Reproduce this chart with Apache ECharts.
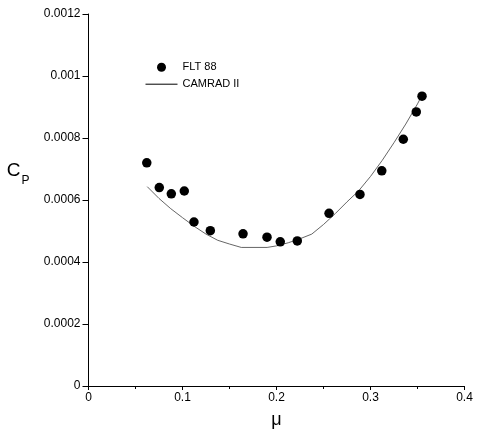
<!DOCTYPE html>
<html><head><meta charset="utf-8">
<script src="https://cdn.jsdelivr.net/npm/echarts@6/dist/echarts.min.js"></script>
<style>html,body{margin:0;padding:0;background:#fff}#c{width:478px;height:434px}</style>
</head><body><div id="c"></div>
<script>
// FLT 88 flight test points [mu, Cp]
var fltMu = [0.062, 0.0753, 0.0881, 0.1019, 0.1122, 0.1296, 0.1644, 0.1899, 0.2040, 0.2221, 0.2559, 0.2888, 0.3120, 0.3349, 0.3487, 0.3548];
var fltCp = [0.000720, 0.000640, 0.000620, 0.000629, 0.000529, 0.000501, 0.000491, 0.000480, 0.000465, 0.000468, 0.000557, 0.000618, 0.000694, 0.000796, 0.000884, 0.000935];
// CAMRAD II prediction
var camMu = [0.0625, 0.075, 0.0875, 0.1, 0.1125, 0.125, 0.1375, 0.15, 0.1625, 0.19, 0.2, 0.2125, 0.225, 0.2375, 0.25, 0.2625, 0.275, 0.2875, 0.3, 0.3125, 0.325, 0.3375, 0.35, 0.356];
var camCp = [0.000643, 0.000605, 0.000572, 0.000543, 0.000515, 0.000490, 0.000470, 0.000458, 0.000447, 0.000447, 0.000452, 0.000462, 0.000475, 0.000490, 0.000521, 0.000556, 0.000594, 0.000630, 0.000676, 0.000728, 0.000785, 0.000845, 0.000910, 0.000945];

var fltData = fltMu.map(function(m, i){ return [m, fltCp[i]]; });
var camData = camMu.map(function(m, i){ return [m, camCp[i]]; });

var font = '"Liberation Sans", Arial, sans-serif';
var chart = echarts.init(document.getElementById('c'), null, {renderer: 'canvas'});
chart.setOption({
  animation: false,
  backgroundColor: '#fff',
  grid: {left: 88.5, right: 13.5, top: 14, bottom: 48},
  legend: {
    orient: 'vertical', left: 140, top: 56.7,
    itemWidth: 32, itemHeight: 9, itemGap: 6,
    textStyle: {fontFamily: font, fontSize: 11, color: '#000'},
    data: [
      {name: 'FLT 88', icon: 'circle', itemStyle: {color: '#000', opacity: 1}},
      {name: 'CAMRAD II', itemStyle: {opacity: 0}, lineStyle: {color: '#000', width: 1}}
    ]
  },
  xAxis: {
    type: 'value', min: 0, max: 0.4, interval: 0.1,
    name: 'μ', nameLocation: 'middle', nameGap: 25,
    nameTextStyle: {fontFamily: font, fontSize: 18, color: '#000'},
    axisLine: {lineStyle: {color: '#000', width: 1}},
    axisTick: {inside: false, length: 4, lineStyle: {color: '#000'}},
    minorTick: {show: true, splitNumber: 2, length: 3, lineStyle: {color: '#000'}},
    axisLabel: {fontFamily: font, fontSize: 12, color: '#000', margin: 6},
    splitLine: {show: false}
  },
  yAxis: {
    type: 'value', min: 0, max: 0.0012, interval: 0.0002,
    name: '{c|C}{p|P}', nameLocation: 'middle', nameRotate: 0, nameGap: 59,
    nameTextStyle: {
      fontFamily: font, color: '#000', padding: [0, 0, 52, 0],
      rich: {
        c: {fontFamily: font, fontSize: 19, color: '#000', verticalAlign: 'top', lineHeight: 22},
        p: {fontFamily: font, fontSize: 12, color: '#000', verticalAlign: 'bottom', padding: [14, 0, 0, 1]}
      }
    },
    axisLine: {show: true, lineStyle: {color: '#000', width: 1}},
    axisTick: {show: true, inside: false, length: 6, lineStyle: {color: '#000'}},
    axisLabel: {fontFamily: font, fontSize: 12, color: '#000', margin: 8},
    splitLine: {show: false}
  },
  series: [
    {
      name: 'FLT 88', type: 'scatter', data: fltData,
      symbol: 'circle', symbolSize: 9.5,
      itemStyle: {color: '#000', opacity: 1}, z: 3
    },
    {
      name: 'CAMRAD II', type: 'line', data: camData,
      symbol: 'none', showSymbol: false, smooth: false,
      lineStyle: {color: '#555', width: 0.9},
      itemStyle: {color: '#000'}, z: 2
    }
  ]
});
</script></body></html>
